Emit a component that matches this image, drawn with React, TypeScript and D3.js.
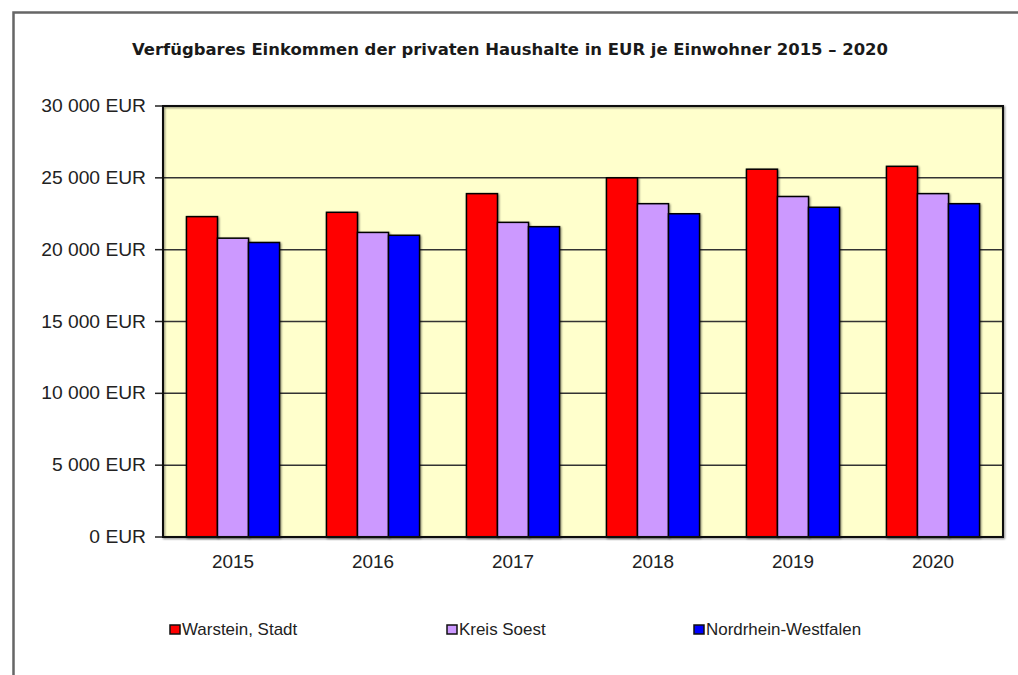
import React from "react";
import * as d3 from "d3";

const years = ["2015", "2016", "2017", "2018", "2019", "2020"];
const seriesNames = ["Warstein, Stadt", "Kreis Soest", "Nordrhein-Westfalen"];
const warstein = [22300, 22600, 23900, 25000, 25600, 25800];
const kreisSoest = [20800, 21200, 21900, 23200, 23700, 23900];
const nrw = [20500, 21000, 21600, 22500, 22950, 23200];
const yTicks = [0, 5000, 10000, 15000, 20000, 25000, 30000];
const colors = ["#FF0000", "#CC99FF", "#0000FF"];
const title = "Verfügbares Einkommen der privaten Haushalte in EUR je Einwohner 2015 – 2020";

const W = 1018;
const H = 675;
const plot = { left: 163, top: 106, right: 1003, bottom: 537 };

const fmt = (v: number) => {
  const s = String(v);
  return s.replace(/\B(?=(\d{3})+(?!\d))/g, " ") + " EUR";
};

export default function App() {
  const series = [warstein, kreisSoest, nrw];
  const x = d3.scaleBand<string>().domain(years).range([plot.left, plot.right]).paddingInner(0.335).paddingOuter(0.1675);
  const xi = d3.scaleBand<number>().domain([0, 1, 2]).range([0, x.bandwidth()]);
  const y = d3.scaleLinear().domain([0, 30000]).range([plot.bottom, plot.top]);
  const font = "'Liberation Sans', Arial, sans-serif";
  const legendX = [170, 447, 694];

  return (
    <svg width={W} height={H} style={{ position: "absolute", left: 0, top: 0, background: "#fff" }}>
      <defs>
        <filter id="sh" x="-20%" y="-20%" width="140%" height="140%">
          <feGaussianBlur in="SourceAlpha" stdDeviation="1" />
          <feOffset dx="1" dy="1" result="b" />
          <feComponentTransfer><feFuncA type="linear" slope="0.5" /></feComponentTransfer>
          <feMerge><feMergeNode /><feMergeNode in="SourceGraphic" /></feMerge>
        </filter>
      </defs>
      {/* outer frame */}
      <path d={`M13.5,${H} V12.5 H${W}`} fill="none" stroke="#666" strokeWidth={2.5} />
      <text x={510} y={55} textAnchor="middle" fontFamily="'DejaVu Sans', Verdana, sans-serif" fontWeight="bold" fontSize={16.5} textLength={756} lengthAdjust="spacingAndGlyphs" fill="#1a1a1a">{title}</text>
      {/* plot area */}
      <rect x={plot.left} y={plot.top} width={plot.right - plot.left} height={plot.bottom - plot.top} fill="#FFFFCC" />
      {yTicks.map((t) => (
        <g key={t}>
          {t > 0 && t < 30000 && (
            <line x1={plot.left} x2={plot.right} y1={y(t)} y2={y(t)} stroke="#333" strokeWidth={1.5} />
          )}
          <line x1={plot.left - 8} x2={plot.left} y1={y(t)} y2={y(t)} stroke="#222" strokeWidth={1.5} />
          <text transform={`translate(146,${y(t) + 6}) scale(1.1,1)`} textAnchor="end" fontFamily={font} fontSize={17.5} fill="#222">{fmt(t)}</text>
        </g>
      ))}
      {years.map((yr, i) => (
        <g key={yr}>
          {series.map((s, j) => (
            <rect key={j} x={(x(yr) as number) + (xi(j) as number)} y={y(s[i])} width={xi.bandwidth()} height={plot.bottom - y(s[i])} fill={colors[j]} stroke="#000" strokeWidth={1.5} filter="url(#sh)" />
          ))}
          <text transform={`translate(${(x(yr) as number) + x.bandwidth() / 2},568) scale(1.08,1)`} textAnchor="middle" fontFamily={font} fontSize={17.5} fill="#222">{yr}</text>
        </g>
      ))}
      <rect x={plot.left} y={plot.top} width={plot.right - plot.left} height={plot.bottom - plot.top} fill="none" stroke="#111" strokeWidth={2} filter="url(#sh)" />
      {seriesNames.map((n, j) => (
        <g key={n}>
          <rect x={legendX[j]} y={625} width={10} height={9} fill={colors[j]} stroke="#111" strokeWidth={1.5} />
          <text transform={`translate(${legendX[j] + 12},635) scale(1.06,1)`} fontFamily={font} fontSize={16} fill="#222">{n}</text>
        </g>
      ))}
    </svg>
  );
}
